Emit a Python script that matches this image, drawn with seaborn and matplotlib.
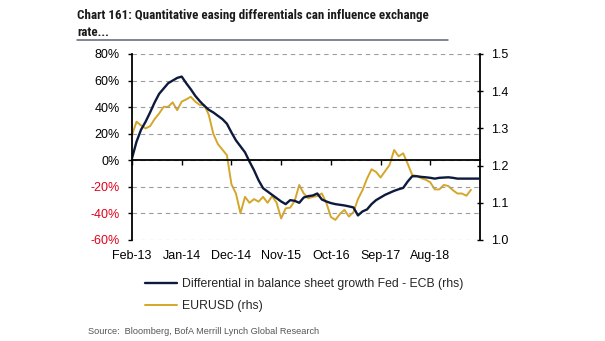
import os
import numpy as np
import pandas as pd
import matplotlib
matplotlib.use("Agg")
import matplotlib.pyplot as plt
from matplotlib import font_manager as fm
from matplotlib.lines import Line2D
import seaborn as sns

# Fed - ECB balance sheet growth differential (%), monthly from Feb-13
diff_growth = [
    1.5, 14, 23, 29, 36, 43.5, 50, 54, 58, 60,
    62, 63, 58, 53.5, 48.5, 44.5, 41, 38, 36, 33.5,
    31, 27.5, 21, 15, 10.5, 6, -1, -7.5, -15, -21,
    -23.5, -26, -28.5, -31, -33, -30, -30.5, -32, -28, -27,
    -26.5, -25, -29.5, -31, -32.2, -33, -33.5, -34, -34.7, -35.5,
    -41.5, -38.5, -37, -33, -30, -28, -26, -24.5, -23, -21.8,
    -20.8, -16, -12, -12, -12.5, -12.8, -13.2, -13.8, -13.2, -13,
    -12.8, -13.2, -13.8, -13.8, -13.8, -13.8, -13.8, -13.8,
]

# EURUSD spot, monthly from Feb-13
eurusd = [
    1.282, 1.318, 1.308, 1.300, 1.306, 1.325, 1.340, 1.358, 1.358, 1.370,
    1.349, 1.372, 1.378, 1.385, 1.372, 1.363, 1.363, 1.336, 1.285, 1.258,
    1.243, 1.228, 1.150, 1.125, 1.072, 1.116, 1.100, 1.110, 1.103, 1.116,
    1.100, 1.118, 1.100, 1.058, 1.085, 1.087, 1.105, 1.148, 1.125, 1.112,
    1.116, 1.118, 1.125, 1.100, 1.062, 1.054, 1.070, 1.081, 1.063, 1.075,
    1.110, 1.134, 1.165, 1.190, 1.183, 1.168, 1.185, 1.202, 1.242, 1.225,
    1.233, 1.205, 1.175, 1.172, 1.166, 1.162, 1.155, 1.136, 1.136, 1.148,
    1.145, 1.134, 1.125, 1.125, 1.119, 1.135,
]

tick_labels = ["Feb-13", "Jan-14", "Dec-14", "Nov-15", "Oct-16", "Sep-17", "Aug-18"]
left_ticks = [-60, -40, -20, 0, 20, 40, 60, 80]
right_ticks = [1.0, 1.1, 1.2, 1.3, 1.4, 1.5]
series_names = ["Differential in balance sheet growth Fed - ECB (rhs)", "EURUSD (rhs)"]
title_lines = ["Chart 161: Quantitative easing differentials can influence exchange", "rate..."]
source = "Source:  Bloomberg, BofA Merrill Lynch Global Research"

NAVY = "#0d1a3d"
GOLD = "#d4a62a"
RED = "#e0001b"

sns.set_theme(style="white")
plt.rcParams["font.family"] = ["Liberation Sans", "DejaVu Sans"]


def condensed_bold_font():
    """Return FontProperties for the narrowest bold face that is installed."""
    prefs = ["liberationsansnarrow-bold", "robotocondensed-bold", "notosans-condensedbold",
             "opensans-condbold", "opensans_condensed-bold", "dejavusanscondensed-bold"]
    files = {os.path.splitext(os.path.basename(f.fname))[0].lower(): f.fname
             for f in fm.fontManager.ttflist}
    for p in prefs:
        for stem, path in files.items():
            if stem.replace(" ", "").replace("_", "-") == p:
                return fm.FontProperties(fname=path)
    return fm.FontProperties(family=["Liberation Sans", "DejaVu Sans"], weight="bold")


start = pd.Period("2013-02", freq="M")
tick_pos = [(pd.Period(pd.to_datetime(t, format="%b-%y"), freq="M") - start).n for t in tick_labels]

df_diff = pd.DataFrame({"month": np.arange(len(diff_growth)), "value": diff_growth})
df_eur = pd.DataFrame({"month": np.arange(len(eurusd)), "value": eurusd})

fig = plt.figure(figsize=(6.05, 3.41), dpi=100)
ax = fig.add_axes([132 / 605, 1 - 240 / 341, 348 / 605, 186 / 341])
ax2 = ax.twinx()

sns.lineplot(data=df_diff, x="month", y="value", ax=ax, color=NAVY, lw=1.7, legend=False)
sns.lineplot(data=df_eur, x="month", y="value", ax=ax2, color=GOLD, lw=1.4, legend=False)
h_diff = ax.lines[0]
h_eur = ax2.lines[0]

ax.set_xlim(0, len(diff_growth) - 1)
ax.set_ylim(-60, 80)
ax2.set_ylim(1.0, 1.5)

# dashed horizontal grid on the left scale
ax.yaxis.grid(True, linestyle=(0, (4, 3.5)), color="#9c9c9c", lw=0.8)
ax.xaxis.grid(False)
ax2.grid(False)

ax.set_yticks(left_ticks, labels=[f"{v}%" for v in left_ticks])
for lab, v in zip(ax.get_yticklabels(), left_ticks):
    lab.set_color(RED if v < 0 else "black")
ax2.set_yticks(right_ticks, labels=[f"{v:.1f}" for v in right_ticks])

# zero line acts as the horizontal axis
ax.spines["bottom"].set_position(("data", 0))
for name in ("top", "right"):
    ax.spines[name].set_visible(False)
for name in ("top", "left", "bottom"):
    ax2.spines[name].set_visible(False)
for sp in (ax.spines["bottom"], ax.spines["left"], ax2.spines["right"]):
    sp.set_color("black")
    sp.set_linewidth(1.3)

ax.set_xticks(tick_pos)
ax.tick_params(axis="x", bottom=True, direction="out", length=3.5, width=1,
               color="black", labelbottom=False)
ax.tick_params(axis="y", left=True, direction="out", length=3, width=1,
               color="black", pad=6, labelsize=9)
ax2.tick_params(axis="y", right=True, direction="inout", length=4, width=1,
                color="black", pad=6, labelsize=9, labelcolor="black")

sec = ax.secondary_xaxis("bottom")
sec.set_xticks(tick_pos, labels=tick_labels)
sec.tick_params(length=0, pad=7, labelsize=9, labelcolor="black")
sec.spines["bottom"].set_visible(False)

for a in (ax, ax2):
    a.set_xlabel("")
    a.set_ylabel("")
ax.set_zorder(ax2.get_zorder() + 1)
ax.patch.set_visible(False)

# title block: bold condensed face, sized so the first line spans ~350 px
title_fp = condensed_bold_font()
title_fp.set_size(10.5)
t1 = fig.text(77 / 605, 1 - 19.5 / 341, title_lines[0], ha="left", va="baseline",
              fontproperties=title_fp, color="#1a1a1a")
t2 = fig.text(77 / 605, 1 - 36 / 341, title_lines[1], ha="left", va="baseline",
              fontproperties=title_fp.copy(), color="#1a1a1a")
fig.canvas.draw()
w = t1.get_window_extent(renderer=fig.canvas.get_renderer()).width
size = 10.5 * min(1.0, 352 / w)
t1.set_fontsize(size)
t2.set_fontsize(size)
fig.add_artist(Line2D([77 / 605, 448 / 605], [1 - 39.5 / 341] * 2,
                      color="#5b6478", lw=1.1, transform=fig.transFigure))

fig.legend(handles=[h_diff, h_eur], labels=series_names, loc="upper left",
           bbox_to_anchor=(145 / 605, 1 - 278 / 341), frameon=False, fontsize=8.8,
           handlelength=2.6, handletextpad=0.4, labelspacing=0.85,
           borderpad=0, borderaxespad=0)

fig.text(88 / 605, 1 - 331 / 341, source,
         ha="left", va="center", fontsize=6.6, color="#555555")

fig.savefig("out.png", dpi=100)
